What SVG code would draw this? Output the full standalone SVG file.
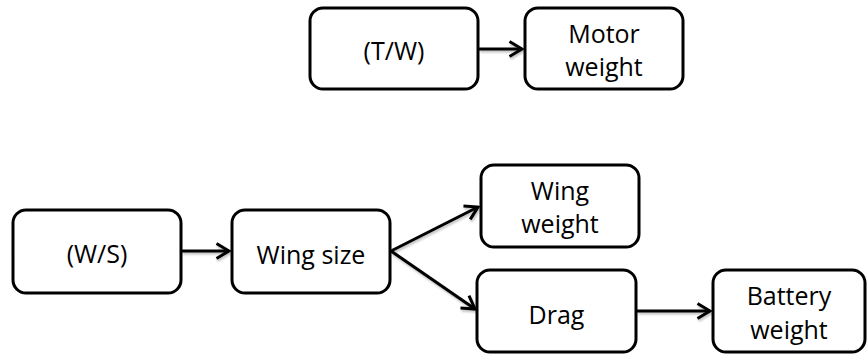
<svg xmlns="http://www.w3.org/2000/svg" width="867" height="356" viewBox="0 0 867 356">
  <defs>
    <marker id="chev" markerUnits="userSpaceOnUse" viewBox="-16 -11 18 22" markerWidth="18" markerHeight="22" refX="0" refY="0" orient="auto">
      <path d="M -12.5 -7.5 L 0 0 L -12.5 7.5" fill="none" stroke="#000" stroke-width="3" stroke-linejoin="miter"/>
    </marker>
    <filter id="soft" x="-10%" y="-30%" width="130%" height="170%">
      <feDropShadow dx="1" dy="2" stdDeviation="1.2" flood-color="#000" flood-opacity="0.25"/>
    </filter>
  </defs>
  <style>
    .box { fill: #fff; stroke: #000; stroke-width: 3; }
    .lbl { font-family: "Open Sans", "Noto Sans", sans-serif; font-size: 25px; fill: #000; text-anchor: middle; }
    .edge { stroke: #000; stroke-width: 3; fill: none; marker-end: url(#chev); }
  </style>
  <rect width="867" height="356" fill="#fff"/>

  <g id="connectors" filter="url(#soft)">
    <line class="edge" x1="479" y1="49" x2="522" y2="49"/>
    <line class="edge" x1="182" y1="251" x2="229" y2="251"/>
    <line class="edge" x1="391" y1="251" x2="478" y2="207"/>
    <line class="edge" x1="391" y1="251" x2="475" y2="309"/>
    <line class="edge" x1="637" y1="311" x2="710" y2="311"/>
  </g>

  <g id="tw">
    <rect class="box" x="310" y="8" width="168" height="81" rx="13"/>
    <text class="lbl" x="394" y="60">(T/W)</text>
  </g>
  <g id="motor-weight">
    <rect class="box" x="525" y="8" width="158" height="81" rx="13"/>
    <text class="lbl" x="604" y="43">Motor</text>
    <text class="lbl" x="604" y="76">weight</text>
  </g>
  <g id="ws">
    <rect class="box" x="13" y="210" width="168" height="83" rx="13"/>
    <text class="lbl" x="97" y="263">(W/S)</text>
  </g>
  <g id="wing-size">
    <rect class="box" x="232" y="210" width="158" height="83" rx="13"/>
    <text class="lbl" x="311" y="264">Wing size</text>
  </g>
  <g id="wing-weight">
    <rect class="box" x="481" y="165" width="158" height="82" rx="13"/>
    <text class="lbl" x="560" y="200">Wing</text>
    <text class="lbl" x="560" y="233">weight</text>
  </g>
  <g id="drag">
    <rect class="box" x="477" y="270" width="159" height="82" rx="13"/>
    <text class="lbl" x="556.5" y="324">Drag</text>
  </g>
  <g id="battery-weight">
    <rect class="box" x="713" y="270" width="152" height="82" rx="13"/>
    <text class="lbl" x="789" y="305">Battery</text>
    <text class="lbl" x="789" y="339">weight</text>
  </g>
</svg>
